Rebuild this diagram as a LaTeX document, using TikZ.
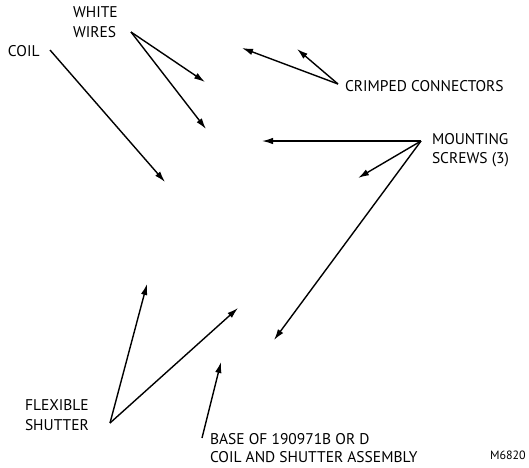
\documentclass[tikz,border=0pt]{standalone}
\usepackage{fontspec}
\setmainfont{PT Sans}
\usetikzlibrary{arrows.meta}
\begin{document}
\begin{tikzpicture}[x=1pt,y=-1pt,
  lbl/.style={inner sep=0pt, outer sep=0pt, align=left, anchor=north west, font=\fontsize{15.5}{19.5}\selectfont},
  arr/.style={-{Latex[length=11pt,width=6.5pt]}, line width=1.4pt}]
\useasboundingbox (0,0) rectangle (529,467);
% labels
\node[lbl] (ww) at (73,7) {WHITE\\WIRES};
\node[lbl] (coil) at (8,45) {COIL};
\node[lbl] (crimp) at (345,80) {CRIMPED CONNECTORS};
\node[lbl] (mount) at (432,133) {MOUNTING\\SCREWS (3)};
\node[lbl] (flex) at (25,400) {FLEXIBLE\\SHUTTER};
\node[lbl, font=\fontsize{15.5}{18.5}\selectfont] (base) at (210,433) {BASE OF 190971B OR D\\COIL AND SHUTTER ASSEMBLY};
\node[lbl, font=\fontsize{12}{14}\selectfont] (mnum) at (490,451) {M6820};
% arrow origins
\coordinate (coilS) at (50,50);
\coordinate (wwS) at (131,32);
\coordinate (crS) at (338,84);
\coordinate (msS) at (421,141);
\coordinate (flS) at (110,423);
\coordinate (baS) at (202,438);
% arrow targets
\coordinate (coilT) at (165,182);
\coordinate (wwT1) at (205,82);
\coordinate (wwT2) at (206,129);
\coordinate (crT1) at (242,48);
\coordinate (crT2) at (297,49);
\coordinate (msT1) at (262,141);
\coordinate (msT2) at (358,178);
\coordinate (msT3) at (274,340);
\coordinate (flT1) at (147,284);
\coordinate (flT2) at (238,308);
\coordinate (baT) at (221,362);
% arrows
\draw[arr] (coilS) -- (coilT);
\draw[arr] (wwS) -- (wwT1);
\draw[arr] (wwS) -- (wwT2);
\draw[arr] (crS) -- (crT1);
\draw[arr] (crS) -- (crT2);
\draw[arr] (msS) -- (msT1);
\draw[arr] (msS) -- (msT2);
\draw[arr] (msS) -- (msT3);
\draw[arr] (flS) -- (flT1);
\draw[arr] (flS) -- (flT2);
\draw[arr] (baS) -- (baT);
\end{tikzpicture}
\end{document}
